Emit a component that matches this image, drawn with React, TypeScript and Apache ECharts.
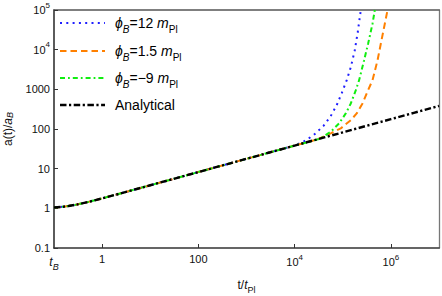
import React, { useEffect, useRef } from "react";
import * as echarts from "echarts";

// ---- data ----
const earlyT = [0.1, 0.15, 0.2, 0.3, 0.5, 0.7, 1, 2, 3, 5, 10, 30, 100, 300, 1000, 3000, 10000];
const earlyA = [1.046, 1.092, 1.144, 1.248, 1.435, 1.59, 1.78, 2.235, 2.556, 3.03, 3.82, 5.5, 8.22, 11.86, 17.71, 25.55, 38.2];

const analyticalLateT = [30000, 1e5, 3e5, 1e6, 3e6, 1e7];
const analyticalLateA = [55.1, 82.2, 118.6, 177.1, 255.5, 381.6];

const blueLateT = [1.54e4, 2.49e4, 4.02e4, 5.62e4, 7.5e4, 9.53e4, 1.21e5, 1.47e5, 1.78e5, 2.05e5, 2.37e5, 2.61e5];
const blueLateA = [48.2, 70.2, 121.8, 211, 400, 802, 1706, 3622, 9710, 27600, 99000, 300000];

const orangeLateT = [3e4, 5.62e4, 9.08e4, 1.47e5, 1.95e5, 2.57e5, 3.37e5, 4.16e5, 5.29e5, 6.19e5, 7.5e5, 8.53e5, 9.2e5];
const orangeLateA = [55.1, 77.6, 103.5, 167, 247, 441, 955, 1706, 5440, 14300, 45700, 100000, 220000];

const greenLateT = [2e4, 3.48e4, 5.62e4, 8.38e4, 1.155e5, 1.47e5, 1.87e5, 2.19e5, 2.78e5, 3.37e5, 4.16e5, 4.64e5, 4.9e5];
const greenLateA = [47.5, 58, 85, 138, 247, 441, 955, 1706, 5440, 14300, 45700, 100000, 220000];

const xTickValues = [1, 100, 1e4, 1e6];
const xLabelValues = [0.1, 1, 100, 1e4, 1e6];
const yTickValues = [0.1, 1, 10, 100, 1000, 1e4, 1e5];

const legendNames = ["phi12", "phi15", "phim9", "analytical"];

const FONT = "'Liberation Sans', 'DejaVu Sans', Arial, sans-serif";

function pairs(t: number[], a: number[]) {
  return t.map((v, i) => [v, a[i]]);
}

const supRich = {
  b: { fontSize: 11, fontFamily: FONT, color: "#111", lineHeight: 18, verticalAlign: "middle" as const },
  sup: { fontSize: 8, fontFamily: FONT, color: "#111", verticalAlign: "top" as const },
  n: { fontSize: 11, fontFamily: FONT, color: "#111" },
  it: { fontSize: 12, fontFamily: FONT, fontStyle: "italic" as const, color: "#111", lineHeight: 18, verticalAlign: "middle" as const },
  itsub: { fontSize: 9, fontFamily: FONT, fontStyle: "italic" as const, color: "#111", verticalAlign: "bottom" as const },
};

function expOf(v: number) {
  return Math.round(Math.log10(v));
}

function xLabel(v: number) {
  const e = expOf(v);
  if (e === -1) return "{it|t}{itsub|B}";
  if (e === 0) return "{n|1}";
  if (e === 2) return "{n|100}";
  return "{b|10}{sup|" + e + "}";
}

function yLabel(v: number) {
  const e = expOf(v);
  if (e === -1) return "{n|0.1}";
  if (e <= 3) return "{n|" + Math.pow(10, e) + "}";
  return "{b|10}{sup|" + e + "}";
}

const legendRich = {
  p: { fontSize: 14, fontFamily: FONT, fontStyle: "italic" as const, color: "#111", lineHeight: 22, verticalAlign: "middle" as const },
  s: { fontSize: 10, fontFamily: FONT, fontStyle: "italic" as const, color: "#111", verticalAlign: "bottom" as const },
  n: { fontSize: 14, fontFamily: FONT, color: "#111", lineHeight: 22, verticalAlign: "middle" as const },
  m: { fontSize: 14, fontFamily: FONT, fontStyle: "italic" as const, color: "#111", lineHeight: 22, verticalAlign: "middle" as const },
  s2: { fontSize: 10, fontFamily: FONT, color: "#111", verticalAlign: "bottom" as const },
};

const legendTexts = [
  "{p|\u03d5}{s|B}{n|=12 }{m|m}{s2|Pl}",
  "{p|\u03d5}{s|B}{n|=1.5 }{m|m}{s2|Pl}",
  "{p|\u03d5}{s|B}{n|=\u22129 }{m|m}{s2|Pl}",
  "{n|Analytical}",
];

const colors = ["#1f1fff", "#ff8000", "#10ee10", "#000000"];
const dashes: number[][] = [
  [2, 4.3],
  [6.5, 4],
  [5, 3, 1.8, 3],
  [6.5, 2.5, 2.2, 2.5],
];
const widths = [2, 2, 2, 2.4];

export default function App() {
  const ref = useRef<HTMLDivElement>(null);
  useEffect(() => {
    if (!ref.current) return;
    const chart = echarts.init(ref.current, undefined, { renderer: "svg" });
    const seriesData = [
      pairs(earlyT.concat(blueLateT), earlyA.concat(blueLateA)),
      pairs(earlyT.concat(orangeLateT), earlyA.concat(orangeLateA)),
      pairs(earlyT.concat(greenLateT), earlyA.concat(greenLateA)),
      pairs(earlyT.concat(analyticalLateT), earlyA.concat(analyticalLateA)),
    ];
    const legendY = [23, 51, 78, 105];
    const graphics: any[] = [];
    legendY.forEach((y, i) => {
      graphics.push({
        type: "line",
        shape: { x1: 60, y1: y, x2: 105, y2: y },
        style: { stroke: colors[i], lineWidth: widths[i], lineDash: dashes[i], lineCap: "butt" },
        z: 10,
      });
      graphics.push({
        type: "text",
        x: 115,
        y: y,
        style: { text: legendTexts[i], rich: legendRich, verticalAlign: "middle", align: "left" },
        z: 10,
      });
    });

    chart.setOption({
      animation: false,
      backgroundColor: "#ffffff",
      grid: { left: 54, right: 3, top: 10, bottom: 48, containLabel: false, outerBoundsMode: "none" },
      xAxis: [
        {
          type: "log",
          logBase: 10,
          min: 0.1,
          max: 1e7,
          name: "{n|t/}{i|t}{s|Pl}",
          nameLocation: "middle",
          nameGap: 28,
          nameTextStyle: {
            rich: {
              n: { fontSize: 12, fontFamily: FONT, color: "#111", lineHeight: 18, verticalAlign: "middle" },
              i: { fontSize: 12, fontFamily: FONT, fontStyle: "italic", color: "#111", lineHeight: 18, verticalAlign: "middle" },
              s: { fontSize: 9, fontFamily: FONT, color: "#111", verticalAlign: "bottom" },
            },
          },
          axisLine: { show: true, lineStyle: { color: "#333", width: 1.6 } },
          axisTick: { show: true, inside: true, length: 4, customValues: xTickValues, lineStyle: { color: "#333", width: 1 } },
          axisLabel: { show: true, margin: 5, customValues: xLabelValues, formatter: xLabel, rich: supRich },
          splitLine: { show: false },
        },
        {
          type: "log",
          logBase: 10,
          min: 0.1,
          max: 1e7,
          position: "top",
          axisLine: { show: true, lineStyle: { color: "#555", width: 1.5 } },
          axisTick: { show: false },
          axisLabel: { show: false },
          splitLine: { show: false },
        },
      ],
      yAxis: [
        {
          type: "log",
          logBase: 10,
          min: 0.1,
          max: 1e5,
          name: "{n|a(t)/}{i|a}{s|B}",
          nameLocation: "middle",
          nameGap: 36,
          nameTextStyle: {
            rich: {
              n: { fontSize: 12, fontFamily: FONT, color: "#111", lineHeight: 14, verticalAlign: "middle" },
              i: { fontSize: 12, fontFamily: FONT, fontStyle: "italic", color: "#111", lineHeight: 14, verticalAlign: "middle" },
              s: { fontSize: 9, fontFamily: FONT, fontStyle: "italic", color: "#111", verticalAlign: "bottom" },
            },
          },
          axisLine: { show: true, lineStyle: { color: "#333", width: 1.6 } },
          axisTick: { show: true, inside: true, length: 4, customValues: yTickValues, lineStyle: { color: "#333", width: 1 } },
          axisLabel: { show: true, margin: 4, customValues: yTickValues, formatter: yLabel, rich: supRich },
          splitLine: { show: false },
        },
        {
          type: "log",
          logBase: 10,
          min: 0.1,
          max: 1e5,
          position: "right",
          axisLine: { show: true, lineStyle: { color: "#777", width: 1.3 } },
          axisTick: { show: false },
          axisLabel: { show: false },
          splitLine: { show: false },
        },
      ],
      series: seriesData.map((d, i) => ({
        name: legendNames[i],
        type: "line",
        xAxisIndex: 0,
        yAxisIndex: 0,
        data: d,
        symbol: "none",
        showSymbol: false,
        clip: true,
        z: 2 + i,
        lineStyle: { color: colors[i], width: widths[i], type: dashes[i], cap: "butt" },
      })),
      graphic: graphics,
    });
    return () => chart.dispose();
  }, []);
  return <div ref={ref} style={{ width: 442, height: 296, position: "absolute", left: 0, top: 0 }} />;
}
